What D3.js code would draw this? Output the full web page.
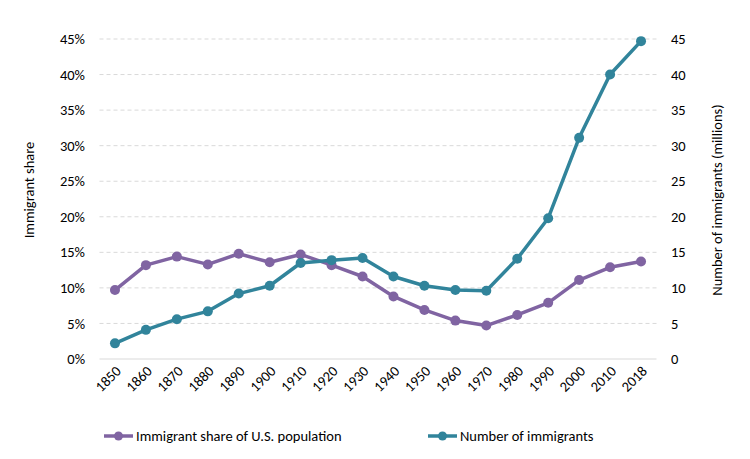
<!DOCTYPE html>
<html><head><meta charset="utf-8">
<script src="https://cdn.jsdelivr.net/npm/d3@7"></script>
<style>body{margin:0;background:#fff}svg{display:block}text{font-family:Carlito,Lato,"Open Sans",sans-serif;fill:#000}</style>
</head><body><svg id="c" width="750" height="459"></svg>
<script>
const years = ["1850","1860","1870","1880","1890","1900","1910","1920","1930","1940","1950","1960","1970","1980","1990","2000","2010","2018"];
const sharePct = [9.7,13.2,14.4,13.3,14.8,13.6,14.7,13.2,11.6,8.8,6.9,5.4,4.7,6.2,7.9,11.1,12.9,13.7];
const numMillions = [2.2,4.1,5.6,6.7,9.2,10.3,13.5,13.9,14.2,11.6,10.3,9.7,9.6,14.1,19.8,31.1,40.0,44.7];
const leftTicks = [0,5,10,15,20,25,30,35,40,45];
const rightTicks = [0,5,10,15,20,25,30,35,40,45];
const purple = "#8064a2", teal = "#31849b";
const FS = 14.5;

const svg = d3.select("#c");
const x = d3.scaleBand().domain(years).range([99.5,656.5]);
const yL = d3.scaleLinear().domain([0,45]).range([359,39]);
const yR = d3.scaleLinear().domain([0,45]).range([359,39]);
const cx = d => x(d) + x.bandwidth()/2;

// grid
svg.append("g").selectAll("line").data(leftTicks).join("line")
  .attr("x1",99.5).attr("x2",656.5).attr("y1",d=>yL(d)).attr("y2",d=>yL(d))
  .attr("stroke","#d9d9d9").attr("stroke-width",1)
  .attr("stroke-dasharray",d=>d===0?null:"4,3");

// left axis labels
const gl = svg.append("g").attr("transform","translate(85,0)")
  .call(d3.axisLeft(yL).tickValues(leftTicks).tickFormat(d=>d+"%").tickSize(0).tickPadding(0));
gl.select(".domain").remove();
gl.selectAll("text").attr("font-size",FS).style("font-family","Carlito,Lato,sans-serif");

const gr = svg.append("g").attr("transform","translate(671,0)")
  .call(d3.axisRight(yR).tickValues(rightTicks).tickSize(0).tickPadding(0));
gr.select(".domain").remove();
gr.selectAll("text").attr("font-size",FS).style("font-family","Carlito,Lato,sans-serif");

// x axis
const gx = svg.append("g").attr("transform","translate(0,359)")
  .call(d3.axisBottom(x).tickSize(0).tickPadding(0));
gx.select(".domain").remove();
gx.selectAll("text").attr("font-size",FS).style("font-family","Carlito,Lato,sans-serif")
  .attr("text-anchor","end").attr("dy",0)
  .attr("transform","translate(7,13) rotate(-45)");

// axis titles
svg.append("text").attr("transform","translate(34,190) rotate(-90)").attr("text-anchor","middle")
  .attr("font-size",FS).text("Immigrant share");
svg.append("text").attr("transform","translate(722,200) rotate(-90)").attr("text-anchor","middle")
  .attr("font-size",FS).text("Number of immigrants (millions)");

function series(vals, scale, color){
  const line = d3.line().x((d,i)=>cx(years[i])).y(d=>scale(d));
  svg.append("path").datum(vals).attr("d",line).attr("fill","none")
    .attr("stroke",color).attr("stroke-width",3.5).attr("stroke-linejoin","round");
  svg.append("g").selectAll("circle").data(vals).join("circle")
    .attr("cx",(d,i)=>cx(years[i])).attr("cy",d=>scale(d)).attr("r",5).attr("fill",color);
}
series(sharePct, yL, purple);
series(numMillions, yR, teal);

// legend
const legend = [{label:"Immigrant share of U.S. population",color:purple,x:104},{label:"Number of immigrants",color:teal,x:428}];
const lg = svg.append("g").selectAll("g").data(legend).join("g").attr("transform",d=>`translate(${d.x},436)`);
lg.append("line").attr("x1",0).attr("x2",29).attr("stroke",d=>d.color).attr("stroke-width",3.5);
lg.append("circle").attr("cx",14.5).attr("r",4.5).attr("fill",d=>d.color);
lg.append("text").attr("x",32).attr("dy","0.35em").attr("font-size",FS).text(d=>d.label);
</script></body></html>
